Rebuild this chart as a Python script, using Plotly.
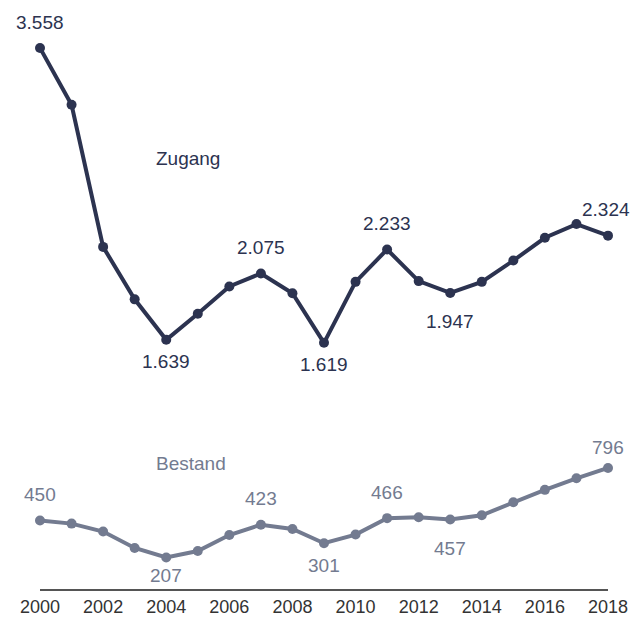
import plotly.graph_objects as go

years = list(range(2000, 2019))
zugang = [3558, 3185, 2250, 1905, 1639, 1810, 1990, 2075, 1945, 1619,
          2020, 2233, 2025, 1947, 2020, 2160, 2310, 2400, 2324]
bestand = [450, 430, 378, 270, 207, 250, 355, 423, 395, 301,
           358, 466, 472, 457, 485, 570, 652, 728, 796]

zugang_labels = {2000: "top", 2004: "bottom", 2007: "top", 2009: "bottom",
                 2011: "top", 2013: "bottom", 2018: "top"}
bestand_labels = {2000: "top", 2004: "bottom", 2007: "top", 2009: "bottom",
                  2011: "top", 2013: "bottom", 2018: "top"}

c_z = "#2c3350"
c_b = "#737b90"
font = "Liberation Sans, Arial, sans-serif"

def fmt(v):
    return f"{v:,}".replace(",", ".")

fig = go.Figure()
fig.add_trace(go.Scatter(x=years, y=zugang, mode="lines+markers",
                         line=dict(color=c_z, width=4),
                         marker=dict(size=10, color=c_z),
                         cliponaxis=False, hoverinfo="skip"))
fig.add_trace(go.Scatter(x=years, y=bestand, mode="lines+markers",
                         line=dict(color=c_b, width=4),
                         marker=dict(size=10, color=c_b),
                         cliponaxis=False, hoverinfo="skip"))

ann = []
for series, labels, col in ((zugang, zugang_labels, c_z), (bestand, bestand_labels, c_b)):
    for yr, pos in labels.items():
        v = series[years.index(yr)]
        ann.append(dict(x=yr, y=v, text=fmt(v), showarrow=False,
                        yshift=26 if pos == "top" else -22,
                        font=dict(size=19, color=col, family=font)))
for a in ann:
    if a["text"] in ("1.947", "457"):
        a["yshift"] = -29
    if a["text"] == "2.324":
        a["xshift"] = -2
    if a["text"] == "796":
        a["yshift"] = 20
    if a["text"] == "207":
        a["yshift"] = -18
ann.append(dict(x=2004.7, y=2834, text="Zugang", showarrow=False,
                font=dict(size=19, color=c_z, family=font)))
ann.append(dict(x=2004.8, y=828, text="Bestand", showarrow=False,
                font=dict(size=19, color=c_b, family=font)))

fig.update_layout(
    width=631, height=621,
    margin=dict(l=40, r=23, t=48, b=32, autoexpand=False),
    paper_bgcolor="white", plot_bgcolor="white",
    showlegend=False,
    hovermode=False,
    annotations=ann,
    xaxis=dict(range=[2000, 2018], tickmode="linear", tick0=2000, dtick=2,
               automargin=False,
               showgrid=False, zeroline=False, showline=True,
               linecolor="#555555", linewidth=2, ticks="",
               tickfont=dict(size=18, color="#333333", family=font)),
    yaxis=dict(range=[0, 3558], visible=False, showgrid=False, automargin=False),
)
fig.write_html("out.html",
               config={"displayModeBar": False, "staticPlot": True},
               post_script="document.body.style.margin='0px';document.body.style.overflow='hidden';")
